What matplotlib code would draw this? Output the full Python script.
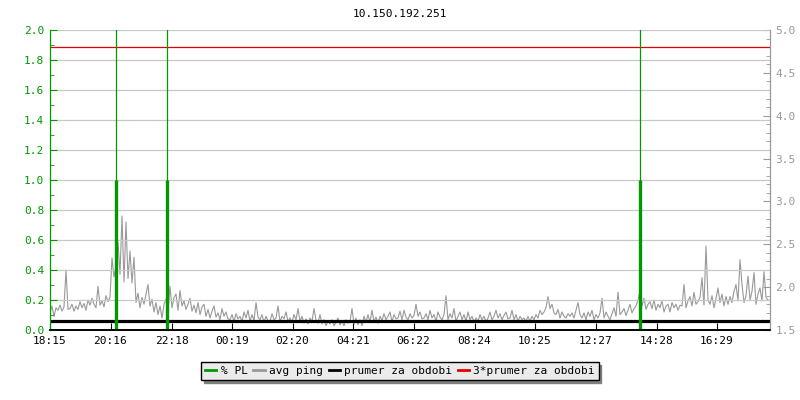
import matplotlib
matplotlib.use("Agg")
from matplotlib import pyplot as plt
from matplotlib.lines import Line2D
from matplotlib.ticker import MultipleLocator, FormatStrFormatter

title = "10.150.192.251"
start = "18:15"
span_min = 1440
step_min = 4

tick_labels = ["18:15", "20:16", "22:18", "00:19", "02:20", "04:21",
               "06:22", "08:24", "10:25", "12:27", "14:28", "16:29"]

# avg ping [ms], one sample every 4 minutes from 18:15
avg_ping = [
    1.70, 1.78, 1.66, 1.76, 1.73, 1.79, 1.72, 1.77, 2.20, 1.74,
    1.75, 1.80, 1.72, 1.78, 1.74, 1.83, 1.76, 1.81, 1.73, 1.85,
    1.79, 1.87, 1.80, 1.76, 2.01, 1.79, 1.84, 1.77, 1.90, 1.83,
    1.88, 2.34, 2.12, 2.25, 2.52, 2.15, 2.83, 2.06, 2.76, 2.10,
    2.42, 2.05, 2.35, 1.82, 1.93, 1.76, 1.88, 1.80, 1.92, 2.03,
    1.78, 1.86, 1.71, 1.82, 1.68, 1.78, 1.64, 1.80, 1.86, 1.72,
    2.01, 1.76, 1.88, 1.92, 1.73, 1.96, 1.78, 1.84, 1.74, 1.80,
    1.87, 1.72, 1.79, 1.70, 1.82, 1.68, 1.77, 1.80, 1.66, 1.74,
    1.64, 1.72, 1.78, 1.65, 1.70, 1.62, 1.75, 1.66, 1.71, 1.63,
    1.62, 1.68, 1.60, 1.69, 1.63, 1.66, 1.60, 1.71, 1.64, 1.73,
    1.60, 1.68, 1.61, 1.82, 1.65, 1.62, 1.68, 1.59, 1.66, 1.61,
    1.60, 1.69, 1.62, 1.64, 1.78, 1.60, 1.66, 1.63, 1.71, 1.60,
    1.64, 1.59, 1.68, 1.62, 1.75, 1.60, 1.66, 1.58, 1.63, 1.57,
    1.64, 1.60, 1.75, 1.62, 1.58, 1.68, 1.57, 1.62, 1.55, 1.60,
    1.57, 1.62, 1.55, 1.59, 1.64, 1.56, 1.60, 1.55, 1.62, 1.58,
    1.60, 1.75, 1.57, 1.64, 1.56, 1.62, 1.55, 1.66, 1.59, 1.68,
    1.59, 1.73, 1.60, 1.65, 1.58, 1.66, 1.61, 1.69, 1.62, 1.66,
    1.71, 1.60, 1.68, 1.63, 1.64, 1.72, 1.62, 1.73, 1.65, 1.62,
    1.69, 1.64, 1.67, 1.80, 1.66, 1.71, 1.63, 1.64, 1.69, 1.62,
    1.73, 1.64, 1.68, 1.60, 1.71, 1.65, 1.62, 1.68, 1.90, 1.62,
    1.69, 1.64, 1.75, 1.60, 1.66, 1.71, 1.62, 1.68, 1.60, 1.71,
    1.62, 1.66, 1.59, 1.64, 1.60, 1.68, 1.62, 1.66, 1.60, 1.64,
    1.71, 1.62, 1.66, 1.73, 1.64, 1.69, 1.62, 1.67, 1.71, 1.63,
    1.64, 1.73, 1.62, 1.68, 1.60, 1.66, 1.62, 1.64, 1.60, 1.66,
    1.60, 1.66, 1.62, 1.68, 1.64, 1.73, 1.68, 1.71, 1.76, 1.89,
    1.75, 1.80, 1.70, 1.68, 1.74, 1.64, 1.71, 1.66, 1.64, 1.69,
    1.66, 1.70, 1.64, 1.73, 1.82, 1.68, 1.64, 1.70, 1.62, 1.71,
    1.66, 1.73, 1.62, 1.68, 1.64, 1.70, 1.87, 1.64, 1.71, 1.66,
    1.62, 1.69, 1.76, 1.66, 1.94, 1.68, 1.71, 1.75, 1.67, 1.73,
    1.80, 1.70, 1.75, 1.78, 1.85, 1.96, 1.78, 1.87, 1.74, 1.80,
    1.83, 1.75, 1.85, 1.73, 1.80, 1.76, 1.84, 1.71, 1.78, 1.80,
    1.71, 1.82, 1.76, 1.80, 1.73, 1.79, 1.78, 2.03, 1.76, 1.84,
    1.89, 1.78, 1.94, 1.80, 1.83, 1.88, 2.11, 1.79, 2.48, 1.85,
    1.80, 1.90, 1.76, 1.87, 1.99, 1.82, 1.92, 1.78, 1.89, 1.80,
    1.89, 1.82, 1.95, 2.03, 1.84, 2.32, 2.03, 1.82, 1.90, 2.13,
    1.85, 1.95, 2.17, 1.80, 1.92, 1.99, 1.84, 2.18, 1.88, 1.85,
]

# packet loss events
pl_times = ["20:27", "22:09", "13:55"]
pl_values = [1.0, 1.0, 1.0]

prumer = 1.6  # ms
prumer3 = 4.8

labels = ["% PL", "avg ping", "prumer za obdobi", "3*prumer za obdobi"]

GREEN = "#009900"
GRAY = "#999999"
RED = "#e00000"


def minutes_from_start(label):
    h, m = map(int, label.split(":"))
    sh, sm = map(int, start.split(":"))
    return (h * 60 + m - (sh * 60 + sm)) % 1440


t = [i * step_min for i in range(len(avg_ping))]
tick_pos = [minutes_from_start(x) for x in tick_labels]
pl_pos = [minutes_from_start(x) for x in pl_times]

plt.rcParams["font.family"] = ["DejaVu Sans Mono"]
plt.rcParams["font.size"] = 8

fig = plt.figure(figsize=(8, 4), dpi=100)
ax = fig.add_axes([0.0625, 0.175, 0.9, 0.75])
ax2 = ax.twinx()
ax.set_zorder(ax2.get_zorder() + 1)
ax.patch.set_visible(False)

# right axis: ping
ax2.plot(t, avg_ping, color=GRAY, lw=0.8)
ax2.axhline(prumer, color="black", lw=2.3)
ax2.axhline(prumer3, color=RED, lw=0.9)
ax2.set_ylim(1.5, 5.0)
ax2.set_xlim(0, span_min)
ax2.yaxis.set_major_locator(MultipleLocator(0.5))
ax2.yaxis.set_minor_locator(MultipleLocator(0.1))
ax2.yaxis.set_major_formatter(FormatStrFormatter("%.1f"))
ax2.tick_params(axis="y", which="both", direction="in", colors=GRAY,
                labelcolor=GRAY, pad=4)
ax2.tick_params(axis="y", which="major", length=5)
ax2.tick_params(axis="y", which="minor", length=3)

# left axis: packet loss
for x in pl_pos:
    ax.axvline(x, color=GREEN, lw=0.9)
ax.vlines(pl_pos, 0, pl_values, color=GREEN, lw=2.4)
ax.set_ylim(0, 2.0)
ax.set_xlim(0, span_min)
ax.yaxis.set_major_locator(MultipleLocator(0.2))
ax.yaxis.set_minor_locator(MultipleLocator(0.1))
ax.yaxis.set_major_formatter(FormatStrFormatter("%.1f"))
ax.tick_params(axis="y", which="both", direction="in", colors=GREEN,
               labelcolor=GREEN, pad=4)
ax.tick_params(axis="y", which="major", length=5)
ax.tick_params(axis="y", which="minor", length=3)
ax.grid(axis="y", color="#c8c8c8", lw=0.9)
ax.set_xticks(tick_pos, tick_labels)
ax.tick_params(axis="x", direction="in", length=5, pad=4)

for a in (ax, ax2):
    a.spines["top"].set_visible(False)
    a.spines["left"].set_color(GREEN)
    a.spines["right"].set_color(GRAY)
    a.spines["bottom"].set_linewidth(1.2)

fig.text(0.5, 0.965, title, ha="center", va="center", fontsize=8)

handles = [Line2D([], [], color=GREEN, lw=2),
           Line2D([], [], color=GRAY, lw=2),
           Line2D([], [], color="black", lw=2),
           Line2D([], [], color=RED, lw=2)]
leg = fig.legend(handles, labels, loc="center", bbox_to_anchor=(0.5, 0.072),
                 ncol=4, frameon=True, fancybox=False, edgecolor="black",
                 facecolor="#ebebeb", framealpha=1, handlelength=1.0,
                 handletextpad=0.4, columnspacing=0.5, borderpad=0.35,
                 shadow={"color": "#808080", "alpha": 1})
leg.get_frame().set_linewidth(1)

fig.savefig("out.png", dpi=100)
